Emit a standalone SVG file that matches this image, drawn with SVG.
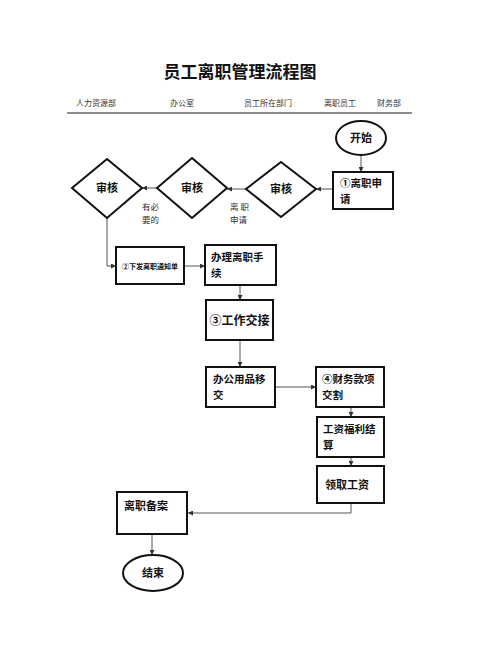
<svg xmlns="http://www.w3.org/2000/svg" width="480" height="647" viewBox="0 0 480 647">
<style>
text{font-family:"Noto Sans CJK SC","Noto Sans",sans-serif;fill:#111}
.b{fill:#fff;stroke:#111;stroke-width:2}
.t{font-weight:bold;font-size:11px}
.m{font-weight:bold;font-size:10.500px}
.h{font-size:8px;fill:#333}
.l{font-size:8.500px;fill:#333}
.c{fill:none;stroke:#555;stroke-width:1;marker-end:url(#a)}
</style>
<defs>
<marker id="a" viewBox="0 0 6 6" refX="6" refY="3" markerWidth="5" markerHeight="5" orient="auto" markerUnits="userSpaceOnUse">
<path d="M0,0L6,3L0,6z" fill="#333"/>
</marker>
</defs>
<rect width="480" height="647" fill="#fff"/>
<text x="240" y="78" text-anchor="middle" style="font-size:17px;font-weight:bold">员工离职管理流程图</text>
<g id="header">
<text class="h" x="96" y="106" text-anchor="middle">人力资源部</text>
<text class="h" x="182" y="106" text-anchor="middle">办公室</text>
<text class="h" x="268" y="106" text-anchor="middle">员工所在部门</text>
<text class="h" x="340" y="106" text-anchor="middle">离职员工</text>
<text class="h" x="389" y="106" text-anchor="middle">财务部</text>
<line x1="67" y1="113" x2="412" y2="113" stroke="#666" stroke-width="1.5"/>
</g>
<g id="connectors">
<path class="c" d="M361,156V172"/>
<path class="c" d="M333,189H316"/>
<path class="c" d="M246,189H227"/>
<path class="c" d="M157,188H142"/>
<path class="c" d="M107,218V266H116"/>
<path class="c" d="M184,266H205"/>
<path class="c" d="M240,285V300"/>
<path class="c" d="M240,340V367"/>
<path class="c" d="M275,387H316"/>
<path class="c" d="M351,407V417"/>
<path class="c" d="M351,457V466"/>
<path class="c" d="M351,503V513H188"/>
<path class="c" d="M152,534V555"/>
</g>
<g id="labels">
<text class="l" x="230" y="210">离 职<tspan x="230" dy="12.500">申请</tspan></text>
<text class="l" x="142" y="210">有必<tspan x="142" dy="12.500">要的</tspan></text>
</g>
<g id="start">
<ellipse class="b" cx="361" cy="138" rx="25" ry="17"/>
<text class="t" x="361" y="142" text-anchor="middle">开始</text>
</g>
<g id="apply">
<rect class="b" x="333" y="172" width="60" height="37"/>
<text class="m" x="340" y="187">①离职申<tspan x="340" dy="15.500">请</tspan></text>
</g>
<g id="review3">
<polygon class="b" points="281,162 316,189 281,217 246,189"/>
<text class="t" x="281" y="193" text-anchor="middle">审核</text>
</g>
<g id="review2">
<polygon class="b" points="192,158 227,188 192,218 157,188"/>
<text class="t" x="192" y="192" text-anchor="middle">审核</text>
</g>
<g id="review1">
<polygon class="b" points="107,159 142,188 107,218 72,188"/>
<text class="t" x="107" y="192" text-anchor="middle">审核</text>
</g>
<g id="notice">
<rect class="b" x="116" y="247" width="68" height="37"/>
<text x="150" y="269" text-anchor="middle" style="font-size:7px;font-weight:bold">②下发离职通知单</text>
</g>
<g id="procedure">
<rect class="b" x="205" y="245" width="71" height="40"/>
<text class="m" x="211" y="261">办理离职手<tspan x="211" dy="15.500">续</tspan></text>
</g>
<g id="handover">
<rect class="b" x="206" y="300" width="67" height="40"/>
<text class="t" x="239.500" y="325" text-anchor="middle" style="font-size:12px">③工作交接</text>
</g>
<g id="office">
<rect class="b" x="206" y="367" width="69" height="40"/>
<text class="m" x="213" y="383">办公用品移<tspan x="213" dy="15.500">交</tspan></text>
</g>
<g id="finance">
<rect class="b" x="316" y="367" width="68" height="40"/>
<text class="m" x="322" y="383">④财务款项<tspan x="322" dy="15.500">交割</tspan></text>
</g>
<g id="salary">
<rect class="b" x="317" y="417" width="67" height="40"/>
<text class="m" x="323" y="433">工资福利结<tspan x="323" dy="15.500">算</tspan></text>
</g>
<g id="wage">
<rect class="b" x="317" y="466" width="67" height="37"/>
<text class="t" x="325" y="489">领取工资</text>
</g>
<g id="archive">
<rect class="b" x="117" y="492" width="70" height="42"/>
<text class="t" x="124" y="510">离职备案</text>
</g>
<g id="end">
<ellipse class="b" cx="153" cy="573" rx="30" ry="18"/>
<text class="t" x="153" y="577" text-anchor="middle">结束</text>
</g>
</svg>
